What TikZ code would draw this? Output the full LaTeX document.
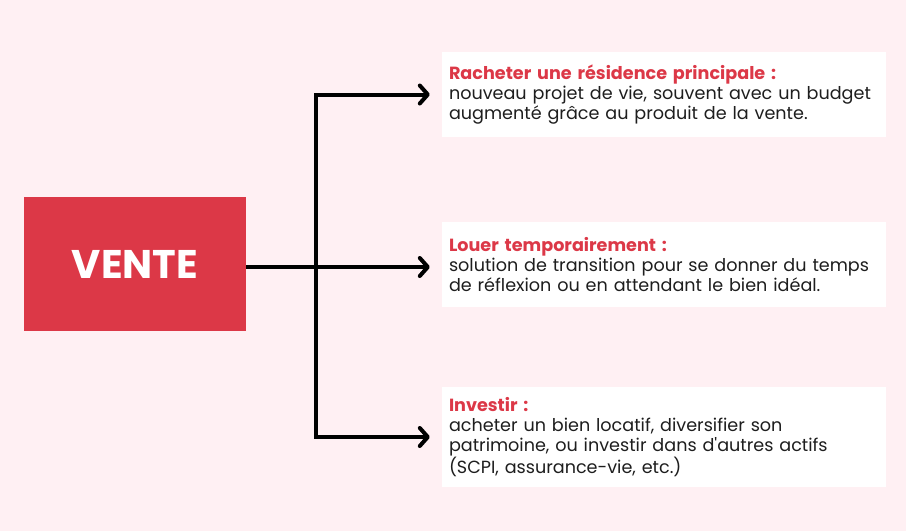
\documentclass[tikz,border=0pt]{standalone}
\usepackage{fontspec}
\setmainfont{Poppins}[Ligatures=TeXOff]
\usepackage{tikz}
\usetikzlibrary{arrows.meta, positioning}
\definecolor{fondrose}{HTML}{FFF0F3}
\definecolor{rougevente}{HTML}{DC3847}
\definecolor{textegris}{HTML}{1E1E1E}

\begin{document}
\begin{tikzpicture}[
        x=1pt, y=-1pt,
        vente/.style={fill=rougevente, text=white, minimum width=222pt, minimum height=134pt, font=\fontsize{40}{44}\selectfont\bfseries},
        choix/.style={fill=white, align=left, text width=430pt, inner xsep=7pt, minimum width=444pt, text=textegris, font=\fontsize{17.6}{20.3}\selectfont},
        pointe/.tip={Straight Barb[length=8pt, width=18pt, line cap=round, round]},
        arrow/.style={-pointe, line width=4pt, shorten >=12pt, line join=miter}
    ]
    \fill[fondrose] (0,0) rectangle (906,531);
    \useasboundingbox (0,0) rectangle (906,531);
    \node[vente] (vente) at (135,264) {VENTE};
    \node[choix, minimum height=85pt] (rachat) at (664,94.5) {\textcolor{rougevente}{\bfseries Racheter une résidence principale :}\\nouveau projet de vie, souvent avec un budget\\augmenté grâce au produit de la vente.};
    \node[choix, minimum height=85pt] (louer) at (664,264.5) {\textcolor{rougevente}{\bfseries Louer temporairement :}\\solution de transition pour se donner du temps\\de réflexion ou en attendant le bien idéal.};
    \node[choix, minimum height=100pt] (investir) at (664,437) {\textcolor{rougevente}{\bfseries Investir :}\\acheter un bien locatif, diversifier son\\patrimoine, ou investir dans d'autres actifs\\(SCPI, assurance-vie, etc.)};
    \coordinate (fork) at (316,267);
    \draw[arrow] (vente.east |- fork) -- (louer.west |- fork);
    \draw[arrow, pointe-pointe, shorten <=12pt] (rachat.west) -- (rachat.west -| fork) -- (investir.west -| fork) -- (investir.west);
\end{tikzpicture}
\end{document}
